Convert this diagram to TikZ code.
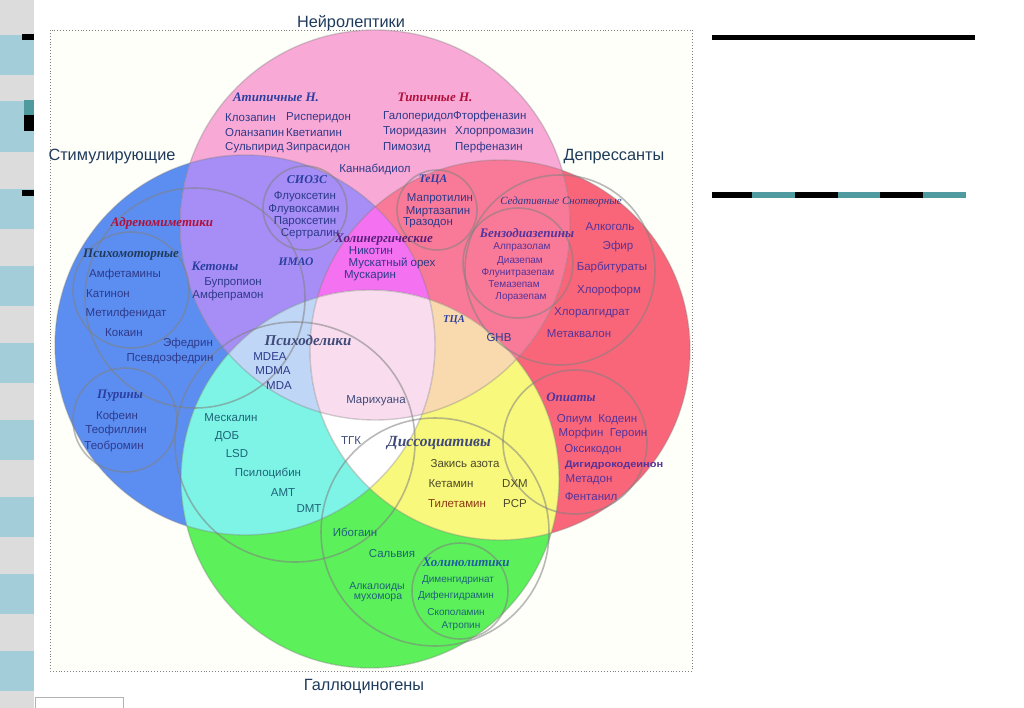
\documentclass[tikz,border=0pt]{standalone}
\usepackage{fontspec}
\setmainfont{Liberation Sans}
\newfontfamily\grpfont{Liberation Serif}
\usetikzlibrary{positioning}

% region colours
\definecolor{cStim}{HTML}{5C8EF2}
\definecolor{cNeuro}{HTML}{F9A9D6}
\definecolor{cDepr}{HTML}{FA6679}
\definecolor{cHallu}{HTML}{5CF05A}
\definecolor{cNS}{HTML}{A68EF6}
\definecolor{cND}{HTML}{F97A98}
\definecolor{cSH}{HTML}{7DF4E6}
\definecolor{cDH}{HTML}{F8F87C}
\definecolor{cNSD}{HTML}{F471F2}
\definecolor{cNSH}{HTML}{BFD6F6}
\definecolor{cNDH}{HTML}{F9D9AE}
\definecolor{cSDH}{HTML}{FFFFFF}
\definecolor{cAll}{HTML}{F9DDEE}
% text colours
\definecolor{tCat}{HTML}{1F3B5C}
\definecolor{tNavy}{HTML}{2E3A8A}
\definecolor{tPurp}{HTML}{55339A}
\definecolor{tTeal}{HTML}{1F6478}
\definecolor{tOlive}{HTML}{4D4A2A}
\definecolor{tBrown}{HTML}{8B3A12}
\definecolor{tGrey}{HTML}{3F4A7A}
\definecolor{gBlue}{HTML}{2B3FA0}
\definecolor{gRed}{HTML}{B0103A}
\definecolor{gPurp}{HTML}{5A1F7A}
\definecolor{gTeal}{HTML}{1F5FA0}
\definecolor{stripBlue}{HTML}{A3CDD9}
\definecolor{stripGrey}{HTML}{DCDCDC}
\definecolor{dashTeal}{HTML}{4E9A9E}

\tikzset{
  drug/.style={inner sep=0pt, text=tNavy, font=\fontsize{11.5}{11.5}\selectfont},
  drugsm/.style={drug, font=\fontsize{10}{10}\selectfont},
  grp/.style={inner sep=0pt, text=gBlue, font=\fontsize{13}{13}\selectfont\grpfont\bfseries\itshape},
  cat/.style={inner sep=0pt, text=tCat, font=\fontsize{16.3}{16.3}\selectfont},
  ring/.style={draw=gray, draw opacity=0.55, line width=1.6pt},
  bigring/.style={draw=gray, draw opacity=0.35, line width=1.4pt},
}

\begin{document}
\begin{tikzpicture}[x=1pt, y=-1pt]
    \useasboundingbox (0,0) rectangle (1024,708);
    \fill[white] (0,0) rectangle (1024,708);

    % slide strip on the left
    \fill[stripGrey] (0,0) rectangle (34,708);
    \foreach \y in {35,112,189,266,343,420,497,574,651}
        \fill[stripBlue] (0,\y) rectangle (34,\y+40);
    \fill[stripBlue] (0,101) rectangle (34,112);
    \fill[black] (22,34) rectangle (34,40);
    \fill[dashTeal] (24,100) rectangle (34,115);
    \fill[black] (24,115) rectangle (34,131);
    \fill[black] (22,190) rectangle (34,196);
    \draw[gray!60, fill=white] (35,697) rectangle (123,709);

    % lines on the right
    \fill[black] (712,35) rectangle (975,40);
    \foreach \a/\b/\c in {712/752/black, 752/795/dashTeal, 795/838/black,
                          838/880/dashTeal, 880/923/black, 923/966/dashTeal}
        \fill[\c] (\a,192) rectangle (\b,198);

    % frame of the chart
    \draw[gray, dotted, line width=0.9pt, fill=white!98!yellow] (50,30) rectangle (692,671);

    % the four classes
    \coordinate (stim) at (245,345);
    \coordinate (depr) at (500,350);
    \coordinate (neuro) at (375,225);
    \coordinate (hallu) at (370,479);

    \fill[cStim] (stim) circle[radius=190pt];
    \fill[cDepr] (depr) circle[radius=190pt];
    \fill[cNeuro] (neuro) circle[radius=195pt];
    \fill[cHallu] (hallu) circle[radius=189pt];
    \begin{scope}
        \clip (neuro) circle[radius=195pt];
        \fill[cNS] (stim) circle[radius=190pt];
        \fill[cND] (depr) circle[radius=190pt];
    \end{scope}
    \begin{scope}
        \clip (hallu) circle[radius=189pt];
        \fill[cSH] (stim) circle[radius=190pt];
        \fill[cDH] (depr) circle[radius=190pt];
    \end{scope}
    \begin{scope}
        \clip (neuro) circle[radius=195pt];
        \clip (stim) circle[radius=190pt];
        \fill[cNSD] (depr) circle[radius=190pt];
        \fill[cNSH] (hallu) circle[radius=189pt];
    \end{scope}
    \begin{scope}
        \clip (neuro) circle[radius=195pt];
        \clip (depr) circle[radius=190pt];
        \fill[cNDH] (hallu) circle[radius=189pt];
    \end{scope}
    \begin{scope}
        \clip (stim) circle[radius=190pt];
        \clip (depr) circle[radius=190pt];
        \fill[cSDH] (hallu) circle[radius=189pt];
    \end{scope}
    \begin{scope}
        \clip (neuro) circle[radius=195pt];
        \clip (stim) circle[radius=190pt];
        \clip (depr) circle[radius=190pt];
        \fill[cAll] (hallu) circle[radius=189pt];
    \end{scope}
    \draw[bigring] (stim) circle[radius=190pt];
    \draw[bigring] (depr) circle[radius=190pt];
    \draw[bigring] (neuro) circle[radius=195pt];
    \draw[bigring] (hallu) circle[radius=189pt];

    % sub-groups
    \coordinate (adreno) at (195,298);
    \coordinate (psymot) at (131,290);
    \coordinate (purin) at (125,420);
    \coordinate (ssri) at (305,208);
    \coordinate (teca) at (437,210);
    \coordinate (sedat) at (560,270);
    \coordinate (benzo) at (518,263);
    \coordinate (psyded) at (295,442);
    \coordinate (dissoc) at (435,532);
    \coordinate (opiat) at (575,442);
    \coordinate (cholin) at (460,591);

    \draw[ring] (adreno) circle[radius=110pt];
    \draw[ring] (psymot) circle[radius=58pt];
    \draw[ring] (purin) circle[radius=52pt];
    \draw[ring] (ssri) circle[radius=42pt];
    \draw[ring] (teca) circle[radius=40pt];
    \draw[ring] (sedat) circle[radius=95pt];
    \draw[ring] (benzo) circle[radius=55pt];
    \draw[ring] (psyded) circle[radius=120pt];
    \draw[ring] (dissoc) circle[radius=114pt];
    \draw[ring] (opiat) circle[radius=72pt];
    \draw[ring] (cholin) circle[radius=48pt];

    % class titles
    \node[cat] (neurot) at (351,23) {Нейролептики};
    \node[cat] (stimt) at (112,157) {Стимулирующие};
    \node[cat] (deprt) at (614,157) {Депрессанты};
    \node[cat] (hallut) at (364,687) {Галлюциногены};

    % neuroleptics
    \node[grp] (atyp) at (276,97) {Атипичные Н.};
    \node[drug, anchor=west] (klozap) at (225,118) {Клозапин};
    \node[drug, anchor=west] (risper) at (286,118) {Рисперидон};
    \node[drug, anchor=west] (olanz) at (225,133) {Оланзапин};
    \node[drug, anchor=west] (kvet) at (286,133) {Кветиапин};
    \node[drug, anchor=west] (sulp) at (225,148) {Сульпирид};
    \node[drug, anchor=west] (zipr) at (286,148) {Зипрасидон};
    \node[grp, text=gRed] (typ) at (435,97) {Типичные Н.};
    \node[drug, anchor=west] (galop) at (383,117) {Галоперидол};
    \node[drug, anchor=west] (ftorf) at (453,117) {Фторфеназин};
    \node[drug, anchor=west] (tiorid) at (383,132) {Тиоридазин};
    \node[drug, anchor=west] (chlorpr) at (455,132) {Хлорпромазин};
    \node[drug, anchor=west] (pimoz) at (383,148) {Пимозид};
    \node[drug, anchor=west] (perf) at (455,148) {Перфеназин};
    \node[drug] (kannab) at (375,169) {Каннабидиол};

    % antidepressants
    \node[grp, font=\fontsize{12}{12}\selectfont\grpfont\bfseries\itshape] (ssrit) at (307,180) {СИОЗС};
    \node[drug] (fluox) at (305,197) {Флуоксетин};
    \node[drug] (fluvox) at (304,210) {Флувоксамин};
    \node[drug] (parox) at (305,222) {Пароксетин};
    \node[drug] (sertr) at (310,234) {Сертралин};
    \node[grp, font=\fontsize{11.5}{11.5}\selectfont\grpfont\bfseries\itshape] (imao) at (296,262) {ИМАО};
    \node[grp, font=\fontsize{11.5}{11.5}\selectfont\grpfont\bfseries\itshape] (tecat) at (433,180) {ТеЦА};
    \node[drug] (maprot) at (440,199) {Мапротилин};
    \node[drug] (mirtaz) at (438,212) {Миртазапин};
    \node[drug] (trazod) at (428,223) {Тразодон};
    \node[grp, text=gPurp] (cholt) at (384,240) {Холинергические};
    \node[drug] (nikot) at (371,251) {Никотин};
    \node[drug] (muskor) at (392,263) {Мускатный орех};
    \node[drug] (muskar) at (370,276) {Мускарин};
    \node[grp, font=\fontsize{10.5}{10.5}\selectfont\grpfont\bfseries\itshape] (tca) at (454,320) {ТЦА};
    \node[drug] (ghb) at (499,338) {GHB};

    % stimulants
    \node[grp, text=gRed] (adrenot) at (162,223) {Адреномиметики};
    \node[grp, text=tCat] (psymott) at (131,255) {Психомоторные};
    \node[drug] (amfet) at (125,275) {Амфетамины};
    \node[drug] (katin) at (108,294) {Катинон};
    \node[drug] (metilf) at (126,314) {Метилфенидат};
    \node[drug] (kokain) at (124,333) {Кокаин};
    \node[drug] (efedr) at (188,344) {Эфедрин};
    \node[drug] (psefedr) at (170,359) {Псевдоэфедрин};
    \node[grp] (ketont) at (215,266) {Кетоны};
    \node[drug] (buprop) at (233,283) {Бупропион};
    \node[drug] (amfepr) at (228,296) {Амфепрамон};
    \node[grp] (purint) at (120,396) {Пурины};
    \node[drug] (kofein) at (117,417) {Кофеин};
    \node[drug] (teofil) at (116,431) {Теофиллин};
    \node[drug] (teobr) at (114,446) {Теобромин};

    % depressants
    \node[grp, font=\fontsize{11}{11}\selectfont\grpfont\itshape, text=tNavy] (sedatt) at (561,202) {Седативные Снотворные};
    \node[grp, text=tPurp] (benzot) at (527,233) {Бензодиазепины};
    \node[drugsm, text=tPurp] (alpraz) at (522,247) {Алпразолам};
    \node[drugsm, text=tPurp] (diaz) at (520,261) {Диазепам};
    \node[drugsm, text=tPurp] (flunitr) at (518,273) {Флунитразепам};
    \node[drugsm, text=tPurp] (temaz) at (514,284) {Темазепам};
    \node[drugsm, text=tPurp] (loraz) at (521,297) {Лоразепам};
    \node[drug, text=tPurp] (alkog) at (610,227) {Алкоголь};
    \node[drug, text=tPurp] (efir) at (618,247) {Эфир};
    \node[drug, text=tPurp] (barbit) at (612,267) {Барбитураты};
    \node[drug, text=tPurp] (chlorof) at (609,291) {Хлороформ};
    \node[drug, text=tPurp] (chloral) at (592,313) {Хлоралгидрат};
    \node[drug, text=tPurp] (metakv) at (579,334) {Метаквалон};
    \node[grp, text=tPurp] (opiatt) at (571,397) {Опиаты};
    \node[drug, text=tPurp] (opium) at (597,420) {Опиум~~Кодеин};
    \node[drug, text=tPurp] (morfin) at (603,434) {Морфин~~Героин};
    \node[drug, text=tPurp] (oksik) at (593,450) {Оксикодон};
    \node[drugsm, text=tPurp, font=\fontsize{9.5}{9.5}\selectfont\bfseries] (digidr) at (614,465) {\scalebox{1.16}[1]{Дигидрокодеинон}};
    \node[drug, text=tPurp] (metad) at (589,480) {Метадон};
    \node[drug, text=tPurp] (fentan) at (591,497) {Фентанил};

    % hallucinogens
    \node[grp, text=tGrey, font=\fontsize{15}{15}\selectfont\grpfont\bfseries\itshape] (psydedt) at (308,340) {Психоделики};
    \node[drug] (mdea) at (270,357) {MDEA};
    \node[drug] (mdma) at (273,371) {MDMA};
    \node[drug] (mda) at (279,386) {MDA};
    \node[drug, text=tGrey] (marih) at (376,401) {Марихуана};
    \node[drug, text=tGrey] (tgk) at (351,441) {ТГК};
    \node[drug, text=tTeal] (meskal) at (231,418) {Мескалин};
    \node[drug, text=tTeal] (dob) at (227,437) {ДОБ};
    \node[drug, text=tTeal] (lsd) at (237,454) {LSD};
    \node[drug, text=tTeal] (psilo) at (268,473) {Псилоцибин};
    \node[drug, text=tTeal] (amt) at (283,493) {AMT};
    \node[drug, text=tTeal] (dmt) at (309,509) {DMT};
    \node[grp, text=tGrey, font=\fontsize{15.5}{15.5}\selectfont\grpfont\bfseries\itshape] (dissoct) at (439,443) {Диссоциативы};
    \node[drug, text=tOlive] (zakis) at (465,464) {Закись азота};
    \node[drug, text=tOlive] (ketam) at (451,484) {Кетамин};
    \node[drug, text=tOlive] (dxm) at (515,484) {DXM};
    \node[drug, text=tBrown] (tiletam) at (457,504) {Тилетамин};
    \node[drug, text=tOlive] (pcp) at (515,504) {PCP};
    \node[drug, text=tTeal] (ibog) at (355,532) {Ибогаин};
    \node[drug, text=tTeal] (salv) at (392,554) {Сальвия};
    \node[drugsm, text=tTeal, font=\fontsize{10.5}{10.5}\selectfont] (alkal) at (377,587) {Алкалоиды};
    \node[drugsm, text=tTeal, font=\fontsize{10.5}{10.5}\selectfont] (muchom) at (378,598) {мухомора};
    \node[grp, text=gTeal] (cholint) at (466,562) {Холинолитики};
    \node[drugsm, text=tTeal] (dimen) at (458,580) {Дименгидринат};
    \node[drugsm, text=tTeal] (difen) at (456,596) {Дифенгидрамин};
    \node[drugsm, text=tTeal] (skopol) at (456,612) {Скополамин};
    \node[drugsm, text=tTeal] (atrop) at (461,626) {Атропин};
\end{tikzpicture}
\end{document}
